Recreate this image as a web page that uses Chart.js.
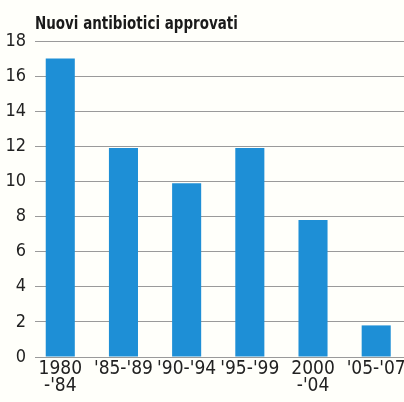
<!DOCTYPE html>
<html>
<head>
<meta charset="utf-8">
<script src="https://cdn.jsdelivr.net/npm/chart.js@4"></script>
<style>
  html, body { margin: 0; padding: 0; background: #fffffa; }
  #wrap { width: 404px; height: 402px; }
</style>
</head>
<body>
<div id="wrap"><canvas id="chart"></canvas></div>
<script>
// Data
var periods = [['1980', "-'84"], ["'85-'89"], ["'90-'94"], ["'95-'99"], ['2000', "-'04"], ["'05-'07"]];
var approved = [17, 11.9, 9.9, 11.9, 7.8, 1.8];
var yTicks = [0, 2, 4, 6, 8, 10, 12, 14, 16, 18];
var titleText = 'Nuovi antibiotici approvati';

var FONT = "'Liberation Sans Narrow', 'DejaVu Sans Condensed', 'Liberation Sans', sans-serif";

// Title drawn at the left edge of the plot area, squeezed a little like the print
var titlePlugin = {
    id: 'leftTitle',
    afterDraw: function(chart) {
        var ctx = chart.ctx;
        ctx.save();
        ctx.font = 'bold 17px ' + FONT;
        ctx.fillStyle = '#1a1a1a';
        ctx.textBaseline = 'alphabetic';
        ctx.translate(chart.chartArea.left, 29);
        ctx.scale(0.88, 1);
        ctx.fillText(titleText, 0, 0);
        ctx.restore();
    }
};

var points = approved.map(function(v, i) { return { x: i, y: v }; });

new Chart(document.getElementById('chart'), {
    type: 'bar',
    data: {
        datasets: [{
            data: points,
            backgroundColor: '#1e8fd6',
            borderWidth: 0,
            categoryPercentage: 1,
            barPercentage: 0.46
        }]
    },
    plugins: [titlePlugin],
    options: {
        responsive: true,
        maintainAspectRatio: false,
        animation: false,
        layout: { padding: { top: 41, left: 0, right: 0, bottom: 0 } },
        plugins: {
            legend: { display: false },
            tooltip: { enabled: false }
        },
        scales: {
            x: {
                type: 'linear',
                min: -0.4,
                max: 5.44,
                offset: false,
                grid: { display: false, drawTicks: false, offset: false },
                border: { display: false },
                afterBuildTicks: function(scale) {
                    scale.ticks = periods.map(function(p, i) { return { value: i }; });
                },
                afterFit: function(scale) {
                    scale.height = 45;
                    scale.paddingLeft = 0;
                    scale.paddingRight = 0;
                },
                ticks: {
                    autoSkip: false,
                    maxRotation: 0,
                    padding: 4,
                    color: '#222',
                    font: { family: FONT, size: 19, lineHeight: 0.88 },
                    callback: function(value) { return periods[value]; }
                }
            },
            y: {
                min: 0,
                max: 18,
                afterBuildTicks: function(scale) {
                    scale.ticks = yTicks.map(function(v) { return { value: v }; });
                },
                afterFit: function(scale) { scale.width = 35; },
                grid: { color: '#9a9a9a', lineWidth: 1, drawTicks: false },
                border: { display: false },
                ticks: {
                    padding: 9,
                    color: '#222',
                    font: { family: FONT, size: 18 }
                }
            }
        }
    }
});
</script>
</body>
</html>
